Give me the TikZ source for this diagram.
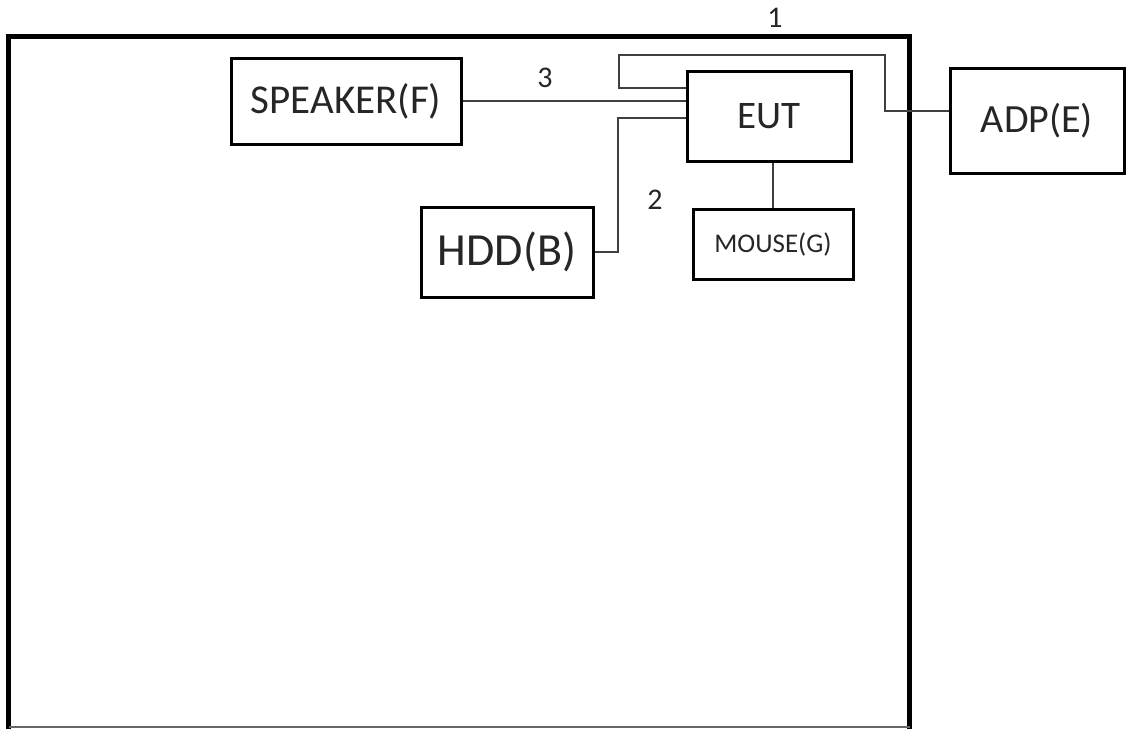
\documentclass[tikz,border=0pt]{standalone}
\usepackage{fontspec}
\setmainfont{Carlito}
\begin{document}
\begin{tikzpicture}[x=1pt,y=-1pt,
  box/.style={draw, line width=3pt, minimum width=#1, inner sep=0pt, text=black!85},
  wire/.style={draw, line width=1.4pt, black!75},
  lbl/.style={font=\fontsize{30}{32}\selectfont, text=black!85}]
\useasboundingbox (0,0) rectangle (1126,729);
% outer frame
\draw[line width=5pt] (8.5,729) -- (8.5,36) -- (909.5,36) -- (909.5,729);
\draw[line width=1.5pt, black!60] (8.5,727) -- (909.5,727);
% boxes
\node[box=230pt, minimum height=86pt, font=\fontsize{41}{44}\selectfont] (spk) at (346,101) {SPEAKER(F)};
\node[box=164pt, minimum height=90pt, font=\fontsize{39}{42}\selectfont] (eut) at (769,116) {EUT};
\node[box=172pt, minimum height=90pt, font=\fontsize{46}{48}\selectfont] (hdd) at (507,252) {HDD(B)};
\node[box=160pt, minimum height=70pt, font=\fontsize{27}{29}\selectfont] (mouse) at (773,244) {MOUSE(G)};
\node[box=174pt, minimum height=105pt, font=\fontsize{40}{42}\selectfont] (adp) at (1037,120.5) {ADP(E)};
% connectors
\draw[wire] ([yshift=28pt]eut.west) -| (619,55) -| (885,111) -- (adp.west |- 885,111);
\draw[wire] (spk.east) -- (eut.west |- spk.east);
\draw[wire] ([yshift=-2pt]eut.west) -| (hdd.east -| 618,0) -- (hdd.east);
\draw[wire] (mouse.north |- eut.south) -- (mouse.north);
% labels
\node[lbl] (l1) at (775,18) {1};
\node[lbl] (l3) at (545,78) {3};
\node[lbl] (l2) at (655,200) {2};
\end{tikzpicture}
\end{document}
